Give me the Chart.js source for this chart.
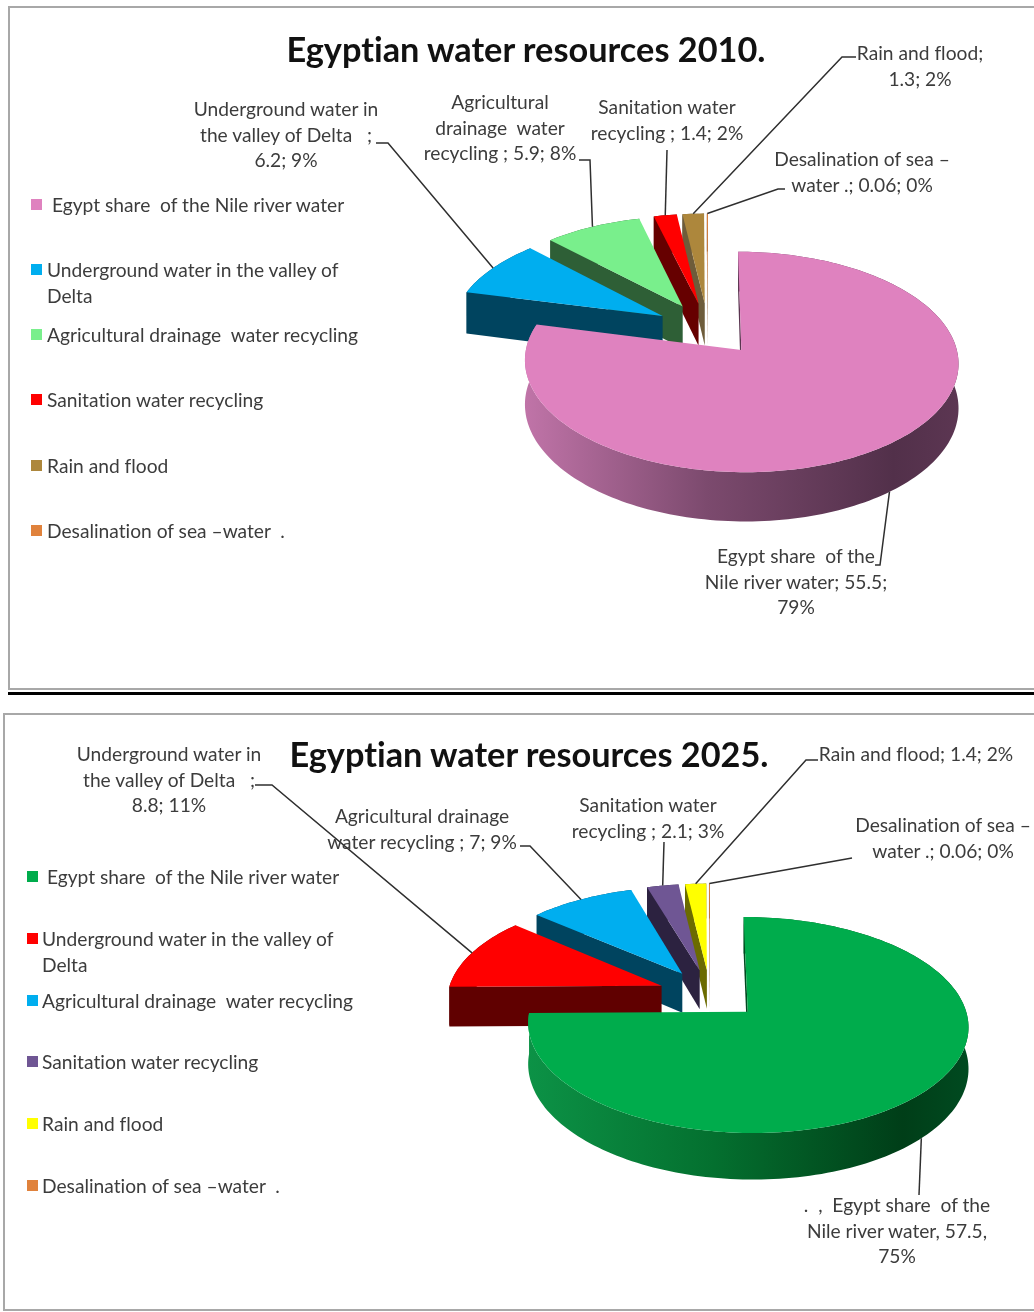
<!DOCTYPE html>
<html>
<head>
<meta charset="utf-8">
<title>Egyptian water resources</title>
<script src="https://cdn.jsdelivr.net/npm/chart.js@4"></script>
<style>
  html, body { margin: 0; background: #fff; }
  #page { position: relative; width: 1034px; height: 1312px; overflow: hidden; font-family: Lato, sans-serif; color: #3c3c3c; font-variant-ligatures: none; }
  #page canvas { position: absolute; left: 0; top: 0; }
  .frame { position: absolute; border: 2px solid #a8a8a8; border-right: none; box-sizing: border-box; }
  .rule { position: absolute; left: 8px; right: 0; top: 692px; height: 3px; background: #000; }
  .title { position: absolute; font-weight: 700; font-size: 34.3px; color: #111; white-space: pre; transform: translate(-50%, -50%); }
  .lbl, .leg { position: absolute; font-size: 19.2px; line-height: 25.7px; white-space: pre; }
  .lbl { text-align: center; transform: translateX(-50%); }
  .swatch { position: absolute; width: 11px; height: 11px; }
</style>
</head>
<body>
<div id="page">
  <div class="frame" style="left:8px;top:6px;width:1026px;height:684px"></div>
  <div class="rule"></div>
  <div class="frame" style="left:3px;top:713px;width:1031px;height:598px"></div>
  <canvas id="pie2010" width="1034" height="1312"></canvas>
  <canvas id="pie2025" width="1034" height="1312"></canvas>
</div>
<script>
const categories = [
  ' Egypt share  of the Nile river water',
  'Underground water in the valley of\nDelta',
  'Agricultural drainage  water recycling',
  'Sanitation water recycling',
  'Rain and flood',
  'Desalination of sea \u2013water  .'
];
const values2010 = [55.5, 6.2, 5.9, 1.4, 1.3, 0.06];
const values2025 = [57.5, 8.8, 7, 2.1, 1.4, 0.06];

const labels2010 = [
  'Egypt share  of the\nNile river water; 55.5;\n79%',
  'Underground water in\nthe valley of Delta   ;\n6.2; 9%',
  'Agricultural\ndrainage  water\nrecycling ; 5.9; 8%',
  'Sanitation water\nrecycling ; 1.4; 2%',
  'Rain and flood;\n1.3; 2%',
  'Desalination of sea \u2013\nwater .; 0.06; 0%'
];
const labels2025 = [
  '.  ,  Egypt share  of the\nNile river water, 57.5,\n75%',
  'Underground water in\nthe valley of Delta   ;\n8.8; 11%',
  'Agricultural drainage\nwater recycling ; 7; 9%',
  'Sanitation water\nrecycling ; 2.1; 3%',
  'Rain and flood; 1.4; 2%',
  'Desalination of sea \u2013\nwater .; 0.06; 0%'
];

const colors2010 = ['#df82bf', '#00aeef', '#79ef8c', '#ff0000', '#ad873c', '#e0823c'];
const sides2010 = ['#5a3550', '#00445f', '#2e5f36', '#660000', '#6e5c3a', '#8a5a30'];
const colors2025 = ['#00ac4c', '#ff0000', '#00aeef', '#6f5694', '#ffff00', '#e0823c'];
const sides2025 = ['#004a20', '#600000', '#00445f', '#2c2240', '#6b6b00', '#8a5a30'];

// one layout per chart: pie centre, radius, explosion, tilt, perspective, wall height
const layout2010 = {
  cx: 708, cy: 329, radius: 211, explode: 53, tilt: 0.495, persp: 0.0005, depth: 43,
  rimStops: ['#c074a8', '#7c4a6e', '#52304a', '#5c3652'],
  title: 'Egyptian water resources 2010.', titleX: 526, titleY: 48,
  labelPos: [[796, 543], [286, 96], [500, 89], [667, 94], [920, 40], [862, 146]],
  leaders: [
    [[880, 565], [875, 565]],
    [[388, 143], [376, 143]],
    [[590, 160], [579, 160]],
    [[667, 150]],
    [[842, 57], [856, 57]],
    [[778, 189], [785, 189]]
  ],
  legendX: 47, swatchX: 31, legendY: [206, 271, 336, 401, 467, 532]
};
const layout2025 = {
  cx: 710, cy: 994, radius: 214, explode: 52, tilt: 0.477, persp: 0.00056, depth: 40,
  rimStops: ['#0c9246', '#04702f', '#003e18', '#004a20'],
  title: 'Egyptian water resources 2025.', titleX: 529, titleY: 753,
  labelPos: [[897, 1192], [169, 741], [422, 803], [648, 792], [916, 741], [943, 812]],
  leaders: [
    [[919, 1195]],
    [[272, 785], [255, 785]],
    [[530, 846], [520, 846]],
    [[664, 842]],
    [[806, 760], [818, 760]],
    [[852, 858]]
  ],
  legendX: 42, swatchX: 27, legendY: [878, 940, 1002, 1063, 1125, 1187]
};

// Maps the flat pie (x right, y away from viewer) to the tilted screen position
function projector(el, lay) {
  return (x, y, z) => {
    const s = 1 / (1 + lay.persp * y);
    return [el.x + x * s, el.y - lay.tilt * y * s + (z || 0) * s];
  };
}

// Reads one slice back from the arc element Chart.js laid out
function sliceGeometry(el) {
  const mid = (el.startAngle + el.endAngle) / 2;
  const shift = el.options.offset / 4;
  return {
    ox: Math.cos(mid) * shift,
    oy: -Math.sin(mid) * shift,
    r: el.outerRadius,
    mid: mid,
    rim(a) { return [this.ox + Math.cos(a) * this.r, this.oy - Math.sin(a) * this.r]; }
  };
}

function fillPoly(ctx, pts, fill) {
  ctx.beginPath();
  pts.forEach((p, i) => (i ? ctx.lineTo(p[0], p[1]) : ctx.moveTo(p[0], p[1])));
  ctx.closePath();
  ctx.fillStyle = fill;
  ctx.fill();
}

function radialWall(ctx, proj, g, a, midPt, fill, depth) {
  const apex = proj(g.ox, g.oy);
  const edge = g.rim(a);
  const end = proj(edge[0], edge[1]);
  const ex = end[0] - apex[0], ey = end[1] - apex[1];
  const toMid = ex * (midPt[1] - apex[1]) - ey * (midPt[0] - apex[0]);
  // wall shows only when the slice body lies above this edge
  if (toMid * ex >= 0) return;
  fillPoly(ctx, [apex, end, proj(edge[0], edge[1], depth), proj(g.ox, g.oy, depth)], fill);
}

function tiltedPiePlugin(lay, sides) {
  return {
    id: 'tiltedPie',
    beforeDatasetsDraw(chart) {
      const ctx = chart.ctx;
      const arcs = chart.getDatasetMeta(0).data;
      ctx.save();
      // far slices first, the big near slice goes on last
      for (let i = arcs.length - 1; i >= 0; i--) {
        const el = arcs[i];
        const g = sliceGeometry(el);
        const proj = projector(el, lay);
        const steps = Math.max(2, Math.ceil((el.endAngle - el.startAngle) * 40));
        const top = [], low = [];
        for (let k = 0; k <= steps; k++) {
          const p = g.rim(el.startAngle + (el.endAngle - el.startAngle) * k / steps);
          top.push(proj(p[0], p[1]));
          low.push(proj(p[0], p[1], lay.depth));
        }
        let rimFill = sides[i];
        if (i === 0) {
          const xs = top.map(p => p[0]);
          const grad = ctx.createLinearGradient(Math.min(...xs), 0, Math.max(...xs), 0);
          lay.rimStops.forEach((c, n) => grad.addColorStop([0, 0.42, 0.85, 1][n], c));
          rimFill = grad;
        }
        fillPoly(ctx, top.concat(low.slice().reverse()), rimFill);
        const m = g.rim(g.mid);
        const midPt = proj(m[0], m[1]);
        radialWall(ctx, proj, g, el.startAngle, midPt, sides[i], lay.depth);
        radialWall(ctx, proj, g, el.endAngle, midPt, sides[i], lay.depth);
        fillPoly(ctx, [proj(g.ox, g.oy)].concat(top), el.options.backgroundColor);
      }
      // leader lines start on the rim of their slice
      ctx.strokeStyle = '#2f2f2f';
      ctx.lineWidth = 1.5;
      arcs.forEach((el, i) => {
        const g = sliceGeometry(el);
        const m = g.rim(g.mid);
        const start = projector(el, lay)(m[0], m[1], i === 0 ? lay.depth : 0);
        ctx.beginPath();
        ctx.moveTo(start[0], start[1]);
        lay.leaders[i].forEach(p => ctx.lineTo(p[0], p[1]));
        ctx.stroke();
      });
      ctx.restore();
      return false;
    }
  };
}

function addText(lay, colors, labels) {
  const page = document.getElementById('page');
  const title = document.createElement('div');
  title.className = 'title';
  title.textContent = lay.title;
  title.style.left = lay.titleX + 'px';
  title.style.top = lay.titleY + 'px';
  page.appendChild(title);

  labels.forEach((text, i) => {
    const d = document.createElement('div');
    d.className = 'lbl';
    d.textContent = text;
    d.style.left = lay.labelPos[i][0] + 'px';
    d.style.top = lay.labelPos[i][1] + 'px';
    page.appendChild(d);
  });

  categories.forEach((name, i) => {
    const sw = document.createElement('div');
    sw.className = 'swatch';
    sw.style.left = lay.swatchX + 'px';
    sw.style.top = (lay.legendY[i] - 7) + 'px';
    sw.style.background = colors[i];
    page.appendChild(sw);
    const d = document.createElement('div');
    d.className = 'leg';
    d.textContent = name;
    d.style.left = lay.legendX + 'px';
    d.style.top = (lay.legendY[i] - 14) + 'px';
    page.appendChild(d);
  });
}

function makePie(id, values, colors, sides, lay) {
  // padding puts the chart area so that Chart.js centres the pie on cx, cy
  const half = lay.radius + lay.explode * 2;
  new Chart(document.getElementById(id), {
    type: 'pie',
    data: {
      labels: categories,
      datasets: [{ data: values, backgroundColor: colors, borderWidth: 0, offset: lay.explode * 4 }]
    },
    options: {
      responsive: false,
      animation: false,
      layout: {
        padding: {
          left: lay.cx - half,
          right: 1034 - lay.cx - half,
          top: lay.cy - half,
          bottom: 1312 - lay.cy - half
        }
      },
      plugins: { legend: { display: false }, tooltip: { enabled: false } }
    },
    plugins: [tiltedPiePlugin(lay, sides)]
  });
}

makePie('pie2010', values2010, colors2010, sides2010, layout2010);
makePie('pie2025', values2025, colors2025, sides2025, layout2025);
addText(layout2010, colors2010, labels2010);
addText(layout2025, colors2025, labels2025);
</script>
</body>
</html>
